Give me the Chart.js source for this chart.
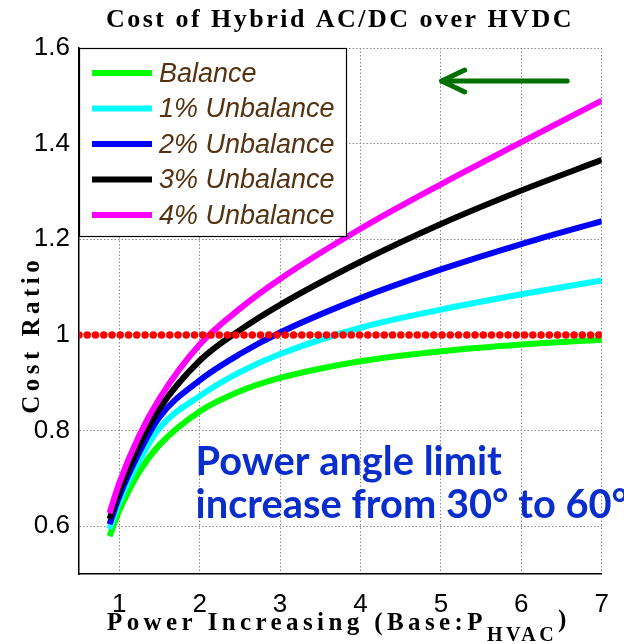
<!DOCTYPE html>
<html>
<head>
<meta charset="utf-8">
<script src="https://cdn.jsdelivr.net/npm/chart.js@4/dist/chart.umd.min.js"></script>
<style>
  html, body { margin: 0; padding: 0; background: #fff; }
  #c { display: block; }
</style>
</head>
<body>
<canvas id="c" width="624" height="644"></canvas>
<script>
// ---------------- data ----------------
const chartTitle = "Cost of Hybrid AC/DC over HVDC";
const xAxisTitle = "Power Increasing (Base:P";
const xAxisSub = "HVAC";
const yAxisTitle = "Cost Ratio";

const xTicks = [1, 2, 3, 4, 5, 6, 7];
const yTicks = [0.6, 0.8, 1.0, 1.2, 1.4, 1.6];

const powerX = [0.88, 1, 1.25, 1.5, 2, 2.5, 3, 4, 5, 6, 7];

const seriesLabels = ["Balance", "1% Unbalance", "2% Unbalance", "3% Unbalance", "4% Unbalance"];
const balance      = [0.579, 0.632, 0.714, 0.770, 0.840, 0.882, 0.910, 0.945, 0.966, 0.980, 0.990];
const unbalance1   = [0.594, 0.650, 0.737, 0.805, 0.872, 0.922, 0.960, 1.015, 1.053, 1.085, 1.114];
const unbalance2   = [0.604, 0.662, 0.755, 0.828, 0.905, 0.960, 1.005, 1.077, 1.137, 1.190, 1.238];
const unbalance3   = [0.615, 0.672, 0.770, 0.846, 0.946, 1.010, 1.063, 1.153, 1.232, 1.302, 1.366];
const unbalance4   = [0.627, 0.690, 0.790, 0.867, 0.980, 1.055, 1.117, 1.222, 1.315, 1.403, 1.490];

const referenceRatio = 1.0;
const annotationLines = ["Power angle limit", "increase from 30\u00B0 to 60\u00B0"];

// ---------------- styles ----------------
const seriesColors = ["#00ff00", "#00ffff", "#0000ff", "#000000", "#ff00ff"];
const seriesValues = [balance, unbalance1, unbalance2, unbalance3, unbalance4];

const X_MIN = 0.5, X_MAX = 7, Y_MIN = 0.5, Y_MAX = 1.6;

const datasets = seriesValues.map((vals, i) => ({
  label: seriesLabels[i],
  data: powerX.map((x, j) => ({ x: x, y: vals[j] })),
  borderColor: seriesColors[i],
  backgroundColor: seriesColors[i],
  borderWidth: 6,
  pointRadius: 0,
  cubicInterpolationMode: 'monotone',
  fill: false,
  order: 5 - i + 1
}));

datasets.push({
  label: "reference",
  data: [{ x: X_MIN, y: referenceRatio }, { x: X_MAX, y: referenceRatio }],
  borderColor: "#ff0000",
  borderWidth: 7.5,
  borderDash: [0.001, 8.25],
  borderCapStyle: 'round',
  pointRadius: 0,
  fill: false,
  order: 0
});

// ---------------- plugin for text decorations ----------------
function fitSpacing(ctx, text, target) {
  ctx.letterSpacing = '0px';
  const w = ctx.measureText(text).width;
  return Math.max(0, (target - w) / text.length);
}

const SERIF = '"Liberation Serif", "Times New Roman", serif';

const decor = {
  id: 'decor',
  afterDatasetsDraw(chart) {
    const { ctx, chartArea, scales } = chart;
    const xs = scales.x, ys = scales.y;

    // legend box
    ctx.save();
    const lx = chartArea.left, ly = chartArea.top, lw = 268, lh = 189;
    ctx.fillStyle = '#ffffff';
    ctx.fillRect(lx, ly, lw, lh);
    ctx.strokeStyle = '#000';
    ctx.lineWidth = 1.2;
    ctx.strokeRect(lx + 0.5, ly + 0.5, lw - 1, lh - 1);
    ctx.font = 'italic 27px "Liberation Sans", Arial, sans-serif';
    ctx.textBaseline = 'middle';
    ctx.textAlign = 'left';
    for (let i = 0; i < seriesLabels.length; i++) {
      const yy = ly + 25 + i * 35.5;
      ctx.strokeStyle = seriesColors[i];
      ctx.lineWidth = 6;
      ctx.lineCap = 'butt';
      ctx.beginPath();
      ctx.moveTo(lx + 13, yy);
      ctx.lineTo(lx + 73, yy);
      ctx.stroke();
      ctx.fillStyle = '#553311';
      ctx.fillText(seriesLabels[i], lx + 80, yy + 1);
    }
    ctx.restore();

    // arrow
    ctx.save();
    const ax1 = xs.getPixelForValue(6.57), ax0 = xs.getPixelForValue(5.01);
    const ay = ys.getPixelForValue(1.531);
    ctx.strokeStyle = '#007000';
    ctx.lineWidth = 5;
    ctx.lineCap = 'round';
    ctx.lineJoin = 'round';
    ctx.beginPath();
    ctx.moveTo(ax1, ay);
    ctx.lineTo(ax0, ay);
    ctx.stroke();
    ctx.beginPath();
    ctx.moveTo(ax0 + 23, ay - 11);
    ctx.lineTo(ax0, ay);
    ctx.lineTo(ax0 + 23, ay + 11);
    ctx.stroke();
    ctx.restore();

    // annotation text
    ctx.save();
    ctx.fillStyle = '#0a2ecc';
    ctx.textAlign = 'left';
    ctx.textBaseline = 'alphabetic';
    let fs = 34;
    ctx.font = 'bold ' + fs + 'px Lato, "Open Sans", sans-serif';
    const w1 = ctx.measureText(annotationLines[0]).width;
    fs = fs * 306 / w1;
    ctx.font = 'bold ' + fs.toFixed(1) + 'px Lato, "Open Sans", sans-serif';
    const tx = xs.getPixelForValue(1.95);
    ctx.fillText(annotationLines[0], tx, ys.getPixelForValue(0.707));
    ctx.fillText(annotationLines[1], tx, ys.getPixelForValue(0.617));
    ctx.restore();
  },
  afterDraw(chart) {
    const { ctx } = chart;
    ctx.save();
    ctx.fillStyle = '#000';
    ctx.textAlign = 'left';
    ctx.textBaseline = 'alphabetic';

    // title
    ctx.font = 'bold 26px ' + SERIF;
    let sp = fitSpacing(ctx, chartTitle, 468);
    ctx.letterSpacing = sp + 'px';
    ctx.fillText(chartTitle, 106, 27);

    // x axis title
    ctx.font = 'bold 25px ' + SERIF;
    sp = fitSpacing(ctx, xAxisTitle, 380);
    ctx.letterSpacing = sp + 'px';
    ctx.fillText(xAxisTitle, 107, 630);
    ctx.font = 'bold 20px ' + SERIF;
    const spS = fitSpacing(ctx, xAxisSub, 70);
    ctx.letterSpacing = spS + 'px';
    ctx.fillText(xAxisSub, 487, 641);
    ctx.font = 'bold 25px ' + SERIF;
    ctx.letterSpacing = '0px';
    ctx.fillText(')', 558, 627);

    // y axis title
    ctx.font = 'bold 25px ' + SERIF;
    ctx.translate(39, 337);
    ctx.rotate(-Math.PI / 2);
    ctx.textAlign = 'center';
    sp = fitSpacing(ctx, yAxisTitle, 158);
    ctx.letterSpacing = sp + 'px';
    ctx.fillText(yAxisTitle, sp / 2, 0);
    ctx.restore();
  }
};

const gridStyle = {
  color: '#8a8a8a',
  lineWidth: 1,
  borderDash: [1.5, 2],
  drawTicks: false
};

new Chart(document.getElementById('c'), {
  type: 'line',
  data: { datasets: datasets },
  options: {
    responsive: false,
    animation: false,
    events: [],
    layout: { padding: { left: 0, right: 17, top: 48, bottom: 0 } },
    plugins: {
      legend: { display: false },
      title: { display: false },
      tooltip: { enabled: false }
    },
    scales: {
      x: {
        type: 'linear',
        min: X_MIN,
        max: X_MAX,
        afterBuildTicks: (s) => { s.ticks = xTicks.map(v => ({ value: v })); },
        afterFit: (s) => { s.height = 70; },
        grid: gridStyle,
        border: { display: true, color: '#000', width: 1.5, dash: [1.5, 2] },
        ticks: {
          color: '#000',
          padding: 15,
          maxRotation: 0,
          font: { family: '"Liberation Sans", Arial, sans-serif', size: 26 },
          callback: (v) => String(v)
        }
      },
      y: {
        type: 'linear',
        min: Y_MIN,
        max: Y_MAX,
        afterBuildTicks: (s) => { s.ticks = yTicks.map(v => ({ value: v })); },
        afterFit: (s) => { s.width = 79; },
        grid: gridStyle,
        border: { display: true, color: '#000', width: 1.5, dash: [1.5, 2] },
        ticks: {
          color: '#000',
          padding: 9,
          font: { family: '"Liberation Sans", Arial, sans-serif', size: 26 },
          callback: (v) => (Math.round(v * 10) / 10).toString()
        }
      }
    }
  },
  plugins: [decor]
});
</script>
</body>
</html>
